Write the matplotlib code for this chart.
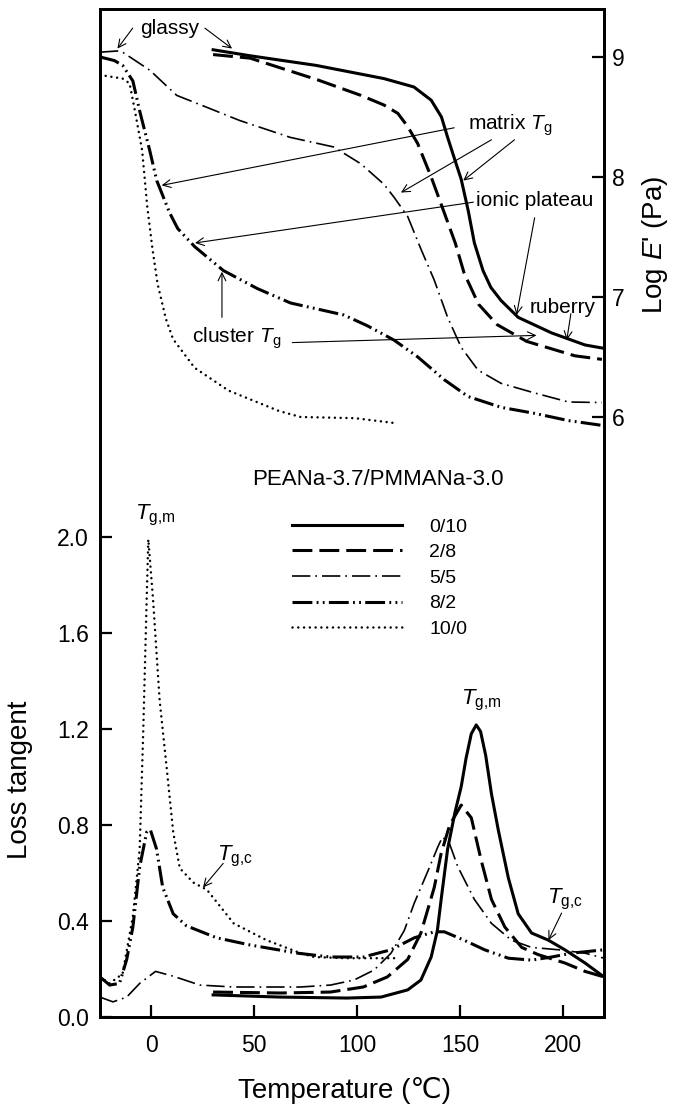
import matplotlib
matplotlib.use('Agg')
import matplotlib.pyplot as plt

plt.rcParams['font.family'] = ['Liberation Sans', 'DejaVu Sans']
plt.rcParams['mathtext.fontset'] = 'custom'
plt.rcParams['mathtext.rm'] = 'Liberation Sans'
plt.rcParams['mathtext.it'] = 'Liberation Sans:italic'

# storage modulus, log E' (Pa)
e_t_0_10 = [30, 48, 80, 113, 127.6, 136, 141, 144, 147, 150.6, 154, 157, 161.2, 165, 170, 178.3, 194.6, 210.8, 219]
e_v_0_10 = [9.06, 9.01, 8.93, 8.82, 8.75, 8.64, 8.50, 8.33, 8.17, 7.98, 7.72, 7.45, 7.22, 7.08, 6.97, 6.83, 6.70,
            6.60, 6.575]
e_t_2_8 = [30, 48, 80.7, 101.8, 113, 119.8, 124.6, 129.4, 136, 142.4, 147.7, 152, 159, 168, 182.4, 205.8, 219]
e_v_2_8 = [9.02, 8.99, 8.81, 8.68, 8.60, 8.53, 8.42, 8.28, 8.0, 7.70, 7.45, 7.20, 6.94, 6.77, 6.63, 6.51, 6.48]
e_t_5_5 = [-25, -16.4, -14, -0.8, 12.3, 27, 43, 67.5, 88.6, 101.8, 113, 118, 124.6, 131, 137.5, 144, 150.6,
           158.8, 170, 186.3, 202.7, 219]
e_v_5_5 = [9.04, 9.05, 9.04, 8.89, 8.68, 8.58, 8.47, 8.33, 8.25, 8.11, 7.94, 7.83, 7.67, 7.40, 7.14, 6.83, 6.58,
           6.39, 6.28, 6.20, 6.125, 6.12]
e_t_8_2 = [-25, -18, -14, -9, -5.7, -0.8, 2.6, 8.9, 12.8, 21, 35, 51.5, 67.6, 78, 93.5, 105, 118, 129.5,
           142.4, 154, 170.1, 186.3, 202.7, 219]
e_v_8_2 = [9.0, 8.97, 8.93, 8.8, 8.55, 8.22, 7.97, 7.70, 7.57, 7.42, 7.22, 7.07, 6.95, 6.91, 6.85, 6.76, 6.64, 6.50,
           6.31, 6.17, 6.08, 6.03, 5.97, 5.93]
e_t_10_0 = [-25, -14, -10.6, -8, -4.5, -2, 0.6, 3, 7, 10.5, 21, 37.5, 62, 72.5, 99, 118]
e_v_10_0 = [8.85, 8.82, 8.78, 8.55, 8.22, 7.75, 7.39, 7.11, 6.82, 6.65, 6.41, 6.22, 6.05, 6.0, 5.99, 5.95]

# loss tangent
d_t_0_10 = [30, 62.7, 95, 111.6, 124.6, 131, 136, 139, 141, 144, 147.5, 150.6, 153, 155.5, 157.9, 160, 162.5,
            165.3, 168.6, 173.5, 178.3, 184.8, 193, 201, 210.8, 220]
d_v_0_10 = [0.092, 0.083, 0.079, 0.083, 0.113, 0.154, 0.25, 0.36, 0.50, 0.70, 0.85, 0.96, 1.08, 1.18, 1.217, 1.19,
            1.09, 0.93, 0.78, 0.58, 0.43, 0.35, 0.32, 0.28, 0.225, 0.167]
d_t_2_8 = [30, 62.7, 87, 103, 114.7, 124.6, 131, 137.5, 140.8, 145, 150.6, 155.5, 160.4, 165.3, 171.8, 180, 188,
           201, 210.8, 220]
d_v_2_8 = [0.104, 0.10, 0.104, 0.125, 0.167, 0.24, 0.35, 0.54, 0.68, 0.80, 0.883, 0.83, 0.65, 0.49, 0.375, 0.29,
           0.26, 0.225, 0.19, 0.167]
d_t_5_5 = [-25, -18.7, -12, -5.7, 2, 10.6, 23.6, 40, 72.5, 87, 98.5, 108.3, 116.5, 122.9, 127.8, 134.5, 139.3,
           141.5, 145, 149, 157, 165.3, 175, 184.8, 198, 210.8, 220]
d_v_5_5 = [0.083, 0.063, 0.083, 0.14, 0.19, 0.17, 0.133, 0.125, 0.125, 0.133, 0.154, 0.196, 0.266, 0.36, 0.475,
           0.61, 0.71, 0.75, 0.72, 0.625, 0.49, 0.39, 0.32, 0.29, 0.28, 0.266, 0.245]
d_t_8_2 = [-25, -20.3, -15.5, -12, -9, -5.7, -2.3, -0.5, 2.5, 5.5, 10.6, 17, 31.7, 48, 71, 87, 103, 116.4,
           127.8, 137.5, 142.4, 152, 162, 173.5, 184.8, 194.6, 204.3, 220]
d_v_8_2 = [0.167, 0.133, 0.14, 0.24, 0.375, 0.625, 0.77, 0.78, 0.70, 0.54, 0.43, 0.38, 0.33, 0.30, 0.266, 0.25,
           0.25, 0.28, 0.33, 0.355, 0.355, 0.32, 0.28, 0.245, 0.237, 0.25, 0.266, 0.28]
d_t_10_0 = [-25, -20.3, -14, -9, -5.7, -4, -2.3, -1.5, 0.8, 4, 7.4, 10.6, 13.8, 20.4, 27, 40, 56, 72.5, 79, 95,
            119.6]
d_v_10_0 = [0.167, 0.14, 0.18, 0.42, 0.70, 1.18, 1.74, 1.99, 1.74, 1.32, 1.04, 0.77, 0.62, 0.56, 0.53, 0.39,
            0.32, 0.266, 0.25, 0.245, 0.245]

labels = ['0/10', '2/8', '5/5', '8/2', '10/0']
styles = [
    dict(ls='-', lw=2.2),
    dict(ls=(0, (6.5, 2.3)), lw=2.2),
    dict(ls=(0, (11, 3, 1, 3)), lw=1.2),
    dict(ls=(0, (6.5, 1.4, 0.6, 1.4, 0.6, 1.4)), lw=2.2),
    dict(ls=(0, (0.01, 2.3)), lw=1.8, dash_capstyle='round'),
]

fig = plt.figure(figsize=(6.81, 11.07), dpi=100)
ax = fig.add_axes([0.1468, 0.0813, 0.7401, 0.9106])
ax2 = ax.twinx()

e_data = [(e_t_0_10, e_v_0_10), (e_t_2_8, e_v_2_8), (e_t_5_5, e_v_5_5), (e_t_8_2, e_v_8_2), (e_t_10_0, e_v_10_0)]
d_data = [(d_t_0_10, d_v_0_10), (d_t_2_8, d_v_2_8), (d_t_5_5, d_v_5_5), (d_t_8_2, d_v_8_2), (d_t_10_0, d_v_10_0)]

handles = []
for (et, ev), (dt, dv), st, lab in zip(e_data, d_data, styles, labels):
    ax2.plot(et, ev, color='black', **st)
    h, = ax.plot(dt, dv, color='black', label=lab, **st)
    handles.append(h)

ax.set_xlim(-25, 220)
ax.set_ylim(0, 4.2)
ax2.set_ylim(1.0, 9.4)
ax.set_xticks([0, 50, 100, 150, 200])
ax.set_yticks([0.0, 0.4, 0.8, 1.2, 1.6, 2.0])
ax.set_yticklabels(['0.0', '0.4', '0.8', '1.2', '1.6', '2.0'])
ax2.set_yticks([6, 7, 8, 9])

for a in (ax, ax2):
    for s in a.spines.values():
        s.set_linewidth(2)
ax.tick_params(axis='y', direction='in', length=8.5, width=1.6, labelsize=16.5, pad=8)
ax.tick_params(axis='x', direction='in', length=8.5, width=1.6, labelsize=16.5, pad=12)
ax2.tick_params(axis='y', direction='in', length=8.5, width=1.6, labelsize=16.5, pad=6)

ax.set_xlabel('Temperature (\u2103)', fontsize=20)
ax.xaxis.set_label_coords(0.486, -0.06)
ax.set_ylabel('Loss tangent', fontsize=20)
ax.yaxis.set_label_coords(-0.133, 0.235)
ax2.set_ylabel(r"Log $\mathit{E}$' (Pa)", fontsize=20)
ax2.yaxis.set_label_coords(1.071, 0.766)

arrow = dict(arrowstyle='->', lw=0.8, color='black', shrinkA=0, shrinkB=0, mutation_scale=14)

# upper panel annotations (log E' axis)
ax2.text(8.9, 9.24, 'glassy', fontsize=15, ha='center', va='center')
ax2.annotate('', xy=(-16.5, 9.07), xytext=(-9.1, 9.24), arrowprops=arrow)
ax2.annotate('', xy=(39.2, 9.07), xytext=(26, 9.24), arrowprops=arrow)

ax2.text(154, 8.43, r'matrix $T_{\mathrm{g}}$', fontsize=15, ha='left', va='center')
ax2.annotate('', xy=(5, 7.93), xytext=(147.2, 8.41), arrowprops=arrow)
ax2.annotate('', xy=(121.3, 7.87), xytext=(165.3, 8.31), arrowprops=arrow)
ax2.annotate('', xy=(151.6, 7.97), xytext=(176.5, 8.31), arrowprops=arrow)

ax2.text(158, 7.80, 'ionic plateau', fontsize=15, ha='left', va='center')
ax2.annotate('', xy=(21.2, 7.45), xytext=(156.5, 7.79), arrowprops=arrow)
ax2.annotate('', xy=(177.5, 6.85), xytext=(186.3, 7.66), arrowprops=arrow)

ax2.text(183.9, 6.91, 'ruberry', fontsize=15, ha='left', va='center')
ax2.annotate('', xy=(201.9, 6.64), xytext=(203.9, 6.86), arrowprops=arrow)

ax2.text(19.7, 6.66, r'cluster $T_{\mathrm{g}}$', fontsize=15, ha='left', va='center')
ax2.annotate('', xy=(34.3, 7.21), xytext=(34.3, 6.83), arrowprops=arrow)
ax2.annotate('', xy=(187.2, 6.68), xytext=(68.5, 6.62), arrowprops=arrow)

# lower panel annotations (loss tangent axis)
ax.text(110, 2.24, 'PEANa-3.7/PMMANa-3.0', fontsize=16, ha='center', va='center')
ax.text(1.7, 2.09, r'$T_{\mathrm{g{,}m}}$', fontsize=16, ha='center', va='center')
ax.text(160.4, 1.32, r'$T_{\mathrm{g{,}m}}$', fontsize=16, ha='center', va='center')
ax.text(40.7, 0.667, r'$T_{\mathrm{g{,}c}}$', fontsize=16, ha='center', va='center')
ax.annotate('', xy=(25.1, 0.54), xytext=(34.9, 0.64), arrowprops=arrow)
ax.text(201, 0.49, r'$T_{\mathrm{g{,}c}}$', fontsize=16, ha='center', va='center')
ax.annotate('', xy=(193, 0.32), xytext=(199.4, 0.433), arrowprops=arrow)

ax2.legend(handles=handles, labels=labels, loc='upper left', bbox_to_anchor=(0.381, 0.495),
           frameon=False, fontsize=14, handlelength=5.66, handletextpad=1.4, labelspacing=0.41,
           borderpad=0, borderaxespad=0)

fig.savefig('out.png', dpi=100)
plt.close(fig)
